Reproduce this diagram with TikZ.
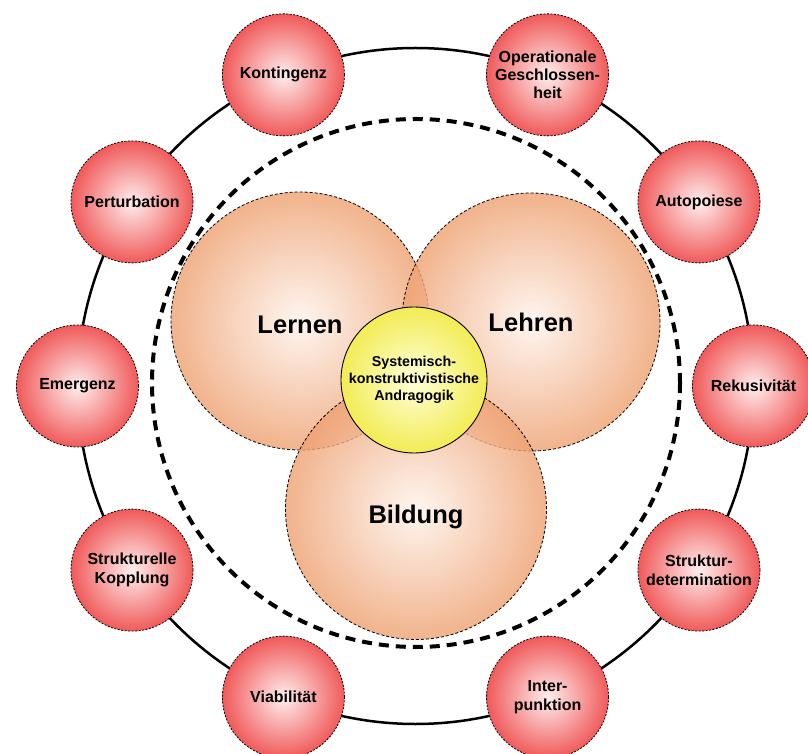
\documentclass[tikz,border=0pt]{standalone}
\usepackage{fontspec}
\setmainfont{Liberation Sans}
\usepackage{tikz}

\definecolor{rotrand}{RGB}{240,90,90}
\definecolor{rotmitte}{RGB}{255,238,238}
\definecolor{orangerand}{RGB}{238,160,112}
\definecolor{orangemitte}{RGB}{254,243,236}
\definecolor{gelbrand}{RGB}{242,236,84}
\definecolor{gelbmitte}{RGB}{255,255,218}

\begin{document}
\begin{tikzpicture}[x=1pt,y=1pt,
  begriff/.style={circle,draw,dash pattern=on 2pt off 1.5pt,line width=0.8pt,minimum size=122pt,inner sep=0pt,align=center,
    shading=radial,inner color=rotmitte,outer color=rotrand,font=\bfseries\fontsize{16}{18.4}\selectfont},
  feld/.style={circle,draw,dash pattern=on 3pt off 2pt,line width=0.8pt,minimum size=258pt,inner sep=0pt,
    shading=radial,inner color=orangemitte,outer color=orangerand,fill opacity=0.8,text opacity=1,
    font=\bfseries\fontsize{25.5}{30}\selectfont},
  kern/.style={circle,draw,line width=0.9pt,minimum size=146pt,inner sep=0pt,align=center,
    shading=radial,inner color=gelbmitte,outer color=gelbrand,font=\bfseries\fontsize{14.3}{16.7}\selectfont}]

\useasboundingbox (0,0) rectangle (808,753) ;
\clip (0,0) rectangle (808,753) ;

\coordinate (mitte) at (415.5,367) ;
\draw[line width=2.5pt] (mitte) circle (338pt) ;
\draw[line width=4pt,dash pattern=on 10pt off 7pt] (416,370) circle (264pt) ;

\node[begriff] (rekursiv) at ([shift={(0:338)}]mitte) {Rekusivität} ;
\node[begriff] (autopoiese) at ([shift={(33:338)}]mitte) {Autopoiese} ;
\node[begriff] (geschlossen) at ([shift={(67:338)}]mitte) {Operationale\\Geschlossen-\\heit} ;
\node[begriff] (kontingenz) at ([shift={(113:338)}]mitte) {Kontingenz} ;
\node[begriff] (perturbation) at ([shift={(147:338)}]mitte) {Perturbation} ;
\node[begriff] (emergenz) at ([shift={(180:338)}]mitte) {Emergenz} ;
\node[begriff] (kopplung) at ([shift={(213:338)}]mitte) {Strukturelle\\Kopplung} ;
\node[begriff] (viabel) at ([shift={(247:338)}]mitte) {Viabilität} ;
\node[begriff] (interpunktion) at ([shift={(293:338)}]mitte) {Inter-\\punktion} ;
\node[begriff] (determination) at ([shift={(327:338)}]mitte) {Struktur-\\determination} ;

\node[feld,text height=26pt,text depth=0pt] (lernen) at (300,432) {Lernen} ;
\node[feld] (lehren) at (531,431) {Lehren} ;
\node[feld,minimum size=261pt,text height=34pt,text depth=5.5pt] (bildung) at (416,244) {Bildung} ;

\node[kern] (andragogik) at (414,373) {Systemisch-\\konstruktivistische\\Andragogik} ;

\end{tikzpicture}
\end{document}
